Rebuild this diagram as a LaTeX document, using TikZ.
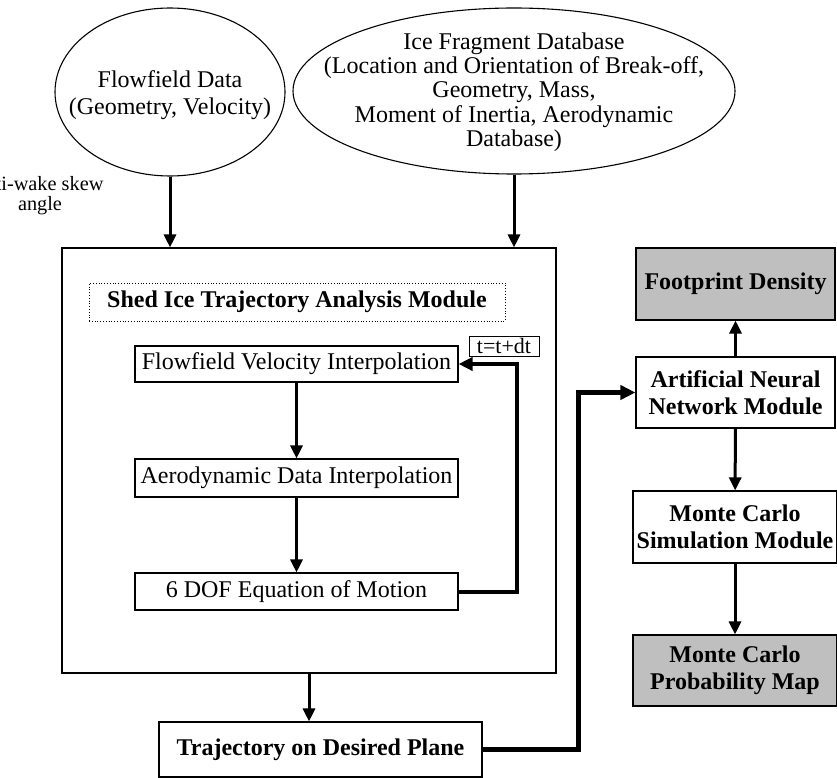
\documentclass[tikz,border=0pt]{standalone}
\usepackage{fontspec}
\setmainfont{Liberation Serif}
\usetikzlibrary{shapes.geometric,arrows.meta}
\begin{document}
\begin{tikzpicture}[x=1pt,y=-1pt,
  txt/.style={font=\fontsize{24}{26.5}\selectfont, align=center},
  bx/.style={draw, line width=1.1pt, inner sep=0pt, txt},
  gbx/.style={bx, fill=black!25},
  ell/.style={draw, line width=1.1pt, ellipse, inner sep=0pt},
  arr/.style={line width=3pt, -{Triangle[length=13pt,width=12pt]}},
  bold/.style={font=\fontsize{24}{26.5}\selectfont\bfseries}
]
\useasboundingbox (0,0) rectangle (837,778);
% ellipses
\node[ell, minimum width=230pt, minimum height=168pt] (flow) at (170,92) {};
\node[txt] (flowtxt) at (170,95) {Flowfield Data\\(Geometry, Velocity)};
\node[ell, minimum width=442pt, minimum height=166pt] (ice) at (514,91) {};
\node[txt, font=\fontsize{24}{24.3}\selectfont] (icetxt) at (514,92) {Ice Fragment Database\\(Location and Orientation of Break-off,\\Geometry, Mass,\\Moment of Inertia, Aerodynamic\\Database)};
% cut-off label
\begin{scope}
\clip (0,0) rectangle (837,778);
\node[font=\fontsize{20.3}{20}\selectfont, align=center] (skew) at (40,196) {anti-wake skew\\angle};
\end{scope}
% big module box
\node[draw, line width=1.1pt, minimum width=494pt, minimum height=425pt, inner sep=0pt] (big) at (309,460.5) {};
\node[draw, dotted, line width=0.8pt, minimum width=416pt, minimum height=38pt, inner sep=0pt, bold] (title) at (297,302) {Shed Ice Trajectory Analysis Module};
\node[bx, minimum width=323pt, minimum height=36pt] (fvi) at (296.5,364) {Flowfield Velocity Interpolation};
\node[bx, minimum width=323pt, minimum height=38pt] (adi) at (296.5,478) {Aerodynamic Data Interpolation};
\node[bx, minimum width=323pt, minimum height=37pt] (dof) at (296.5,591.5) {6 DOF Equation of Motion};
\node[bx, minimum width=70pt, minimum height=20pt, line width=0.9pt, font=\fontsize{22}{22}\selectfont] (dt) at (504,346) {t=t+dt};
\coordinate (loop) at (517,592);
% trajectory
\node[bx, bold, minimum width=323pt, minimum height=55pt] (traj) at (320.5,749.5) {Trajectory on Desired Plane};
% right column
\node[gbx, bold, minimum width=199pt, minimum height=72pt] (fp) at (735.5,284) {Footprint Density};
\node[bx, bold, minimum width=199pt, minimum height=71pt] (ann) at (735.5,392.5) {Artificial Neural\\Network Module};
\node[bx, bold, minimum width=204pt, minimum height=72pt] (mcs) at (735,527) {Monte Carlo\\Simulation Module};
\node[gbx, bold, minimum width=204pt, minimum height=71pt] (mcp) at (735,670.5) {Monte Carlo\\Probability Map};
\coordinate (bend) at (578,392.5);
% arrows
\draw[arr] (flow.south) -- (flow.south |- big.north);
\draw[arr] (ice.south) -- (ice.south |- big.north);
\draw[arr] (fvi) -- (adi);
\draw[arr] (adi) -- (dof);
\draw[line width=4pt, -{Triangle[length=14pt,width=13pt]}] (dof.east) -| (loop |- fvi.east) -- (fvi.east);
\draw[arr] (big.south) -- (big.south |- traj.north);
\draw[line width=5pt, -{Triangle[length=15pt,width=14pt]}] (traj.east) -| (bend) -- (ann.west);
\draw[arr] (ann) -- (fp);
\draw[arr] (ann) -- (mcs);
\draw[arr] (mcs) -- (mcp);
\end{tikzpicture}
\end{document}
